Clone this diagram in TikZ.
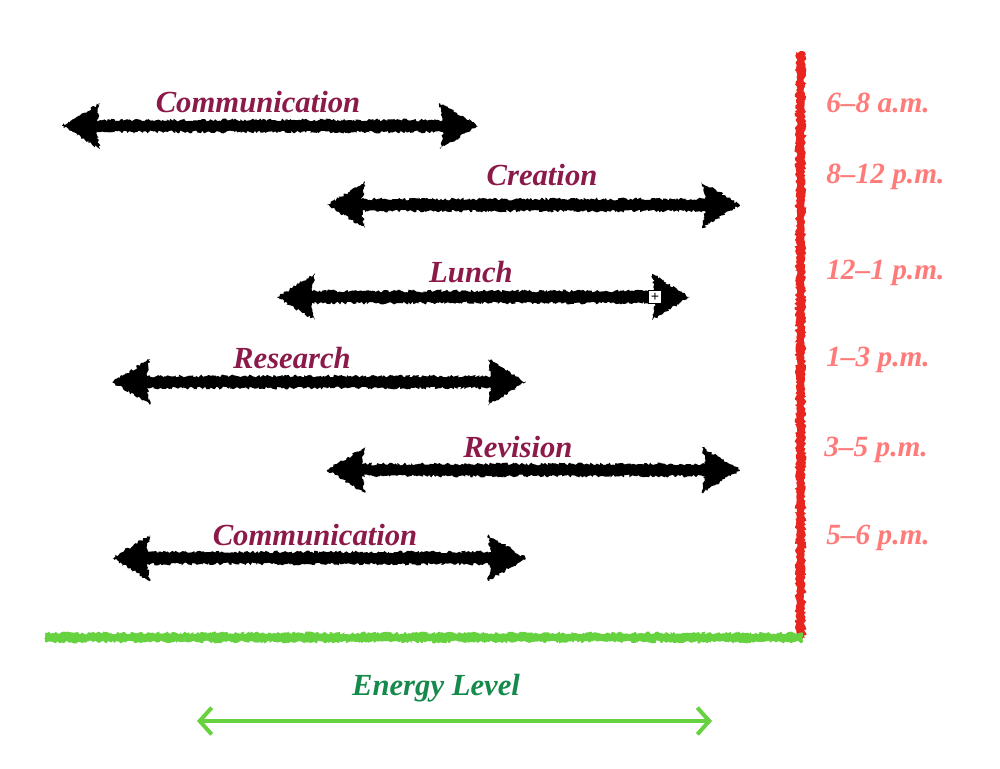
\documentclass[tikz,border=0pt]{standalone}
\usepackage{fontspec}
\setmainfont{Liberation Serif}
\usetikzlibrary{decorations.pathmorphing,arrows.meta}
\definecolor{plum}{HTML}{8B1A4A}
\definecolor{salmon}{HTML}{FF7B79}
\definecolor{chalkred}{HTML}{E8251F}
\definecolor{chalkgreen}{HTML}{66D23F}
\definecolor{darkgreen}{HTML}{168A4C}
\tikzset{
  chalk/.style={decorate,decoration={random steps,segment length=1.3pt,amplitude=1.1pt}},
  task/.style={text=plum,inner sep=0pt,font=\fontsize{23}{26}\selectfont\bfseries\itshape},
  timelbl/.style={text=salmon,inner sep=0pt,anchor=west,font=\fontsize{22}{26}\selectfont\bfseries\itshape},
  energy/.style={text=darkgreen,inner sep=0pt,font=\fontsize{23}{26}\selectfont\bfseries\itshape},
}
\newcommand\chalkarrow[3]{% x1 x2 y
  \fill[chalk,black] (#1,#3) -- (#1+38,#3-23) -- (#1+35,#3-6) -- (#2-35,#3-6) -- (#2-38,#3-23)
    -- (#2,#3) -- (#2-38,#3+23) -- (#2-35,#3+6) -- (#1+35,#3+6) -- (#1+38,#3+23) -- cycle;}
\begin{document}
\begin{tikzpicture}[x=0.75pt,y=-0.75pt]
\pgfmathsetseed{7}
\useasboundingbox (0,0) rectangle (1000,768);
% axes
\fill[chalk,chalkred] (796,52) rectangle (805,638);
\fill[chalk,chalkgreen] (45,633) rectangle (803,642);
% arrows
\chalkarrow{62}{478}{126}
\chalkarrow{327}{740}{205}
\chalkarrow{277}{690}{297}
\chalkarrow{112}{526}{382}
\chalkarrow{327}{740}{470}
\chalkarrow{112}{526}{558}
% handle box on Lunch arrow
\node[draw=black,fill=white,minimum size=10pt,inner sep=0pt,line width=0.7pt,font=\fontsize{11}{11}\selectfont\bfseries] (handle) at (655,297) {+};
% task labels
\node[task] (t1) at (258,102) {Communication};
\node[task] (t2) at (542,175) {Creation};
\node[task] (t3) at (471,272) {Lunch};
\node[task] (t4) at (292,358) {Research};
\node[task] (t5) at (518,447) {Revision};
\node[task] (t6) at (315,535) {Communication};
% time labels
\node[timelbl] (h1) at (826,103) {6–8 a.m.};
\node[timelbl] (h2) at (826,177) {8–12 p.m.};
\node[timelbl] (h3) at (826,273) {12–1 p.m.};
\node[timelbl] (h4) at (826,360) {1–3 p.m.};
\node[timelbl] (h5) at (824,450) {3–5 p.m.};
\node[timelbl] (h6) at (826,538) {5–6 p.m.};
% energy
\node[energy] (el) at (436,688) {Energy Level};
\coordinate (e1) at (197,721);
\coordinate (e2) at (712,721);
\draw[chalkgreen,line width=3pt,{Straight Barb[length=9pt,width=20pt]}-{Straight Barb[length=9pt,width=20pt]}] (e1) -- (e2);
\end{tikzpicture}
\end{document}
